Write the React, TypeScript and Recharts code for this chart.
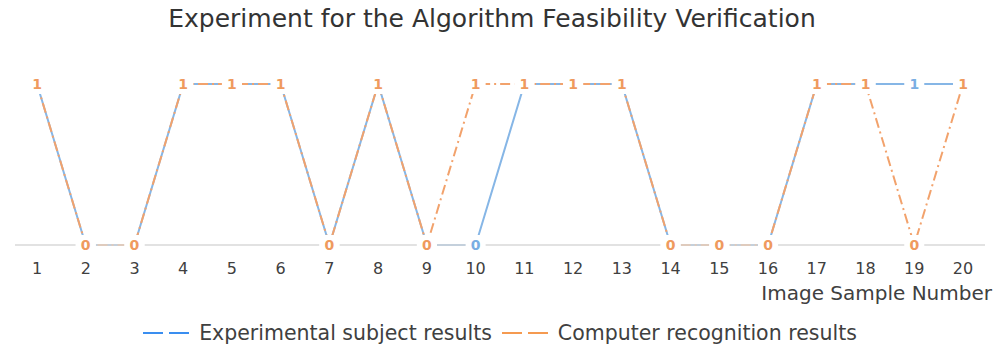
import React from 'react';
import { LineChart, Line, XAxis, YAxis, Legend } from 'recharts';

const samples = [1, 2, 3, 4, 5, 6, 7, 8, 9, 10, 11, 12, 13, 14, 15, 16, 17, 18, 19, 20];
const experimental = [1, 0, 0, 1, 1, 1, 0, 1, 0, 0, 1, 1, 1, 0, 0, 0, 1, 1, 1, 1];
const computer = [1, 0, 0, 1, 1, 1, 0, 1, 0, 1, 1, 1, 1, 0, 0, 0, 1, 1, 0, 1];

const data = samples.map((s, i) => ({ sample: s, exp: experimental[i], comp: computer[i] }));

const BLUE = '#86b6e6';
const ORANGE = '#f2a26c';
const FONT = '"DejaVu Sans", Verdana, sans-serif';

const makeLabel = (color: string) => (props: any) => {
  const { x, y, value } = props;
  return (
    <g>
      <rect x={x - 10} y={y - 10} width={20} height={20} fill="#ffffff" />
      <text x={x} y={y + 5} textAnchor="middle" fontSize={14} fontWeight="bold" fill={color} fontFamily={FONT}>
        {value}
      </text>
    </g>
  );
};

const AxisTitle = (props: any) => {
  const vb = props.viewBox || {};
  return (
    <text x={vb.x + vb.width + 7} y={300} textAnchor="end" fontSize={20} fill="#404040" fontFamily={FONT}>
      Image Sample Number
    </text>
  );
};

const LegendContent = () => (
  <div style={{ display: 'flex', justifyContent: 'center', alignItems: 'center', height: 24, fontFamily: FONT, fontSize: 20.5, color: '#404040' }}>
    <svg width={46} height={10} style={{ marginRight: 10 }}>
      <line x1={0} y1={5} x2={46} y2={5} stroke="#3a8ef0" strokeWidth={2} strokeDasharray="20 6" />
    </svg>
    <span style={{ marginRight: 10 }}>Experimental subject results</span>
    <svg width={46} height={10} style={{ marginRight: 10 }}>
      <line x1={0} y1={5} x2={46} y2={5} stroke="#f59a50" strokeWidth={2} strokeDasharray="20 6" />
    </svg>
    <span>Computer recognition results</span>
  </div>
);

export default function App() {
  return (
    <div style={{ position: 'absolute', left: 0, top: 0, width: 997, height: 349, background: '#fff' }}>
      <div style={{ position: 'absolute', left: 0, top: 4, width: 984, textAlign: 'center', fontFamily: FONT, fontSize: 25, color: '#333' }}>
        Experiment for the Algorithm Feasibility Verification
      </div>
      <LineChart width={997} height={349} data={data} margin={{ top: 84, right: 12, left: 15, bottom: 4 }}>
        <XAxis
          dataKey="sample"
          type="number"
          domain={[1, 20]}
          ticks={samples}
          interval={0}
          padding={{ left: 22, right: 22 }}
          height={76}
          axisLine={{ stroke: '#d9d9d9', strokeWidth: 1.5 }}
          tickLine={false}
          tickMargin={12}
          tick={{ fontSize: 16, fill: '#404040', fontFamily: FONT }}
          label={<AxisTitle />}
        />
        <YAxis hide domain={[0, 1]} />
        <Legend verticalAlign="bottom" content={<LegendContent />} />
        <Line
          type="linear"
          dataKey="exp"
          stroke={BLUE}
          strokeWidth={2}
          dot={false}
          isAnimationActive={false}
          label={makeLabel('#7aaee3')}
        />
        <Line
          type="linear"
          dataKey="comp"
          stroke={ORANGE}
          strokeWidth={2}
          strokeDasharray="10 4 2 4"
          dot={false}
          isAnimationActive={false}
          label={makeLabel('#ef9a5e')}
        />
      </LineChart>
    </div>
  );
}
